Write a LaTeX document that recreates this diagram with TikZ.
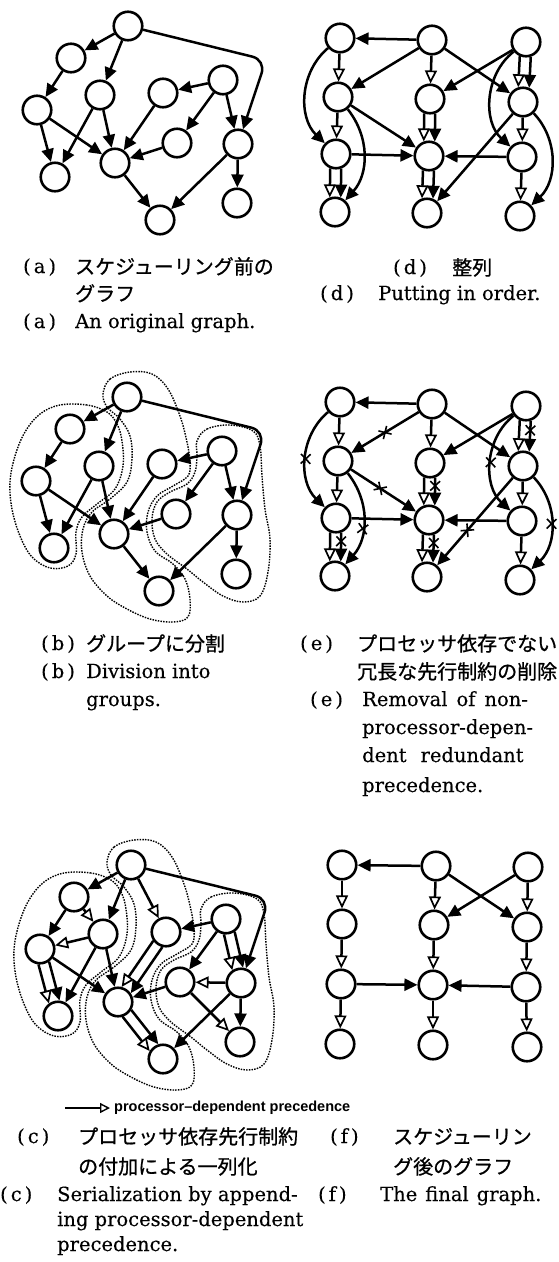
\documentclass[tikz,border=0pt]{standalone}
\usepackage{fontspec}
\setmainfont{DejaVu Serif}[FakeBold=0.3]
\newfontfamily\jpfont{Noto Sans CJK JP}[FakeBold=0.8]
\newfontfamily\legfont{Liberation Sans}
\usetikzlibrary{arrows.meta,calc,shapes.misc}

\tikzset{
  vtx/.style={circle,draw,line width=2.6pt,minimum size=28.5pt,inner sep=0pt,fill=white},
  e/.style={line width=2.5pt,-{Triangle[length=13pt,width=12pt]}},
  p/.style={line width=2.5pt,-{Triangle[length=13pt,width=12pt,fill=white,line width=1.7pt]}},
  grp/.style={line width=1.4pt,dash pattern=on 1.5pt off 1.2pt},
  xmk/.style={cross out,draw,solid,line width=1.6pt,minimum size=8pt,inner sep=0pt,sloped,allow upside down,shorten <=0pt,shorten >=0pt},
  en/.style={anchor=base west,inner sep=0pt,font=\fontsize{19.5}{23}\selectfont},
  jp/.style={anchor=base west,inner sep=0pt,font=\jpfont\fontsize{20}{24}\selectfont},
  leg/.style={anchor=west,inner sep=0pt,font=\legfont\bfseries\fontsize{14.5}{17}\selectfont},
  pl/.style={line width=1.5pt,shorten >=4pt,-{Triangle[length=10pt,width=10pt,fill=white,line width=1.4pt]}},
}

% paired (hollow + filled) connector
\newcommand\dbledge[2]{%
  \draw[p,shorten <=14.5pt,shorten >=14.5pt] ($(#1)!5.5pt!-90:(#2)$) -- ($(#2)!5.5pt!90:(#1)$);
  \draw[e,shorten <=14.5pt,shorten >=14.5pt] ($(#1)!5.5pt!90:(#2)$) -- ($(#2)!5.5pt!-90:(#1)$);
}
\newcommand\dbledgex[2]{%
  \draw[p,shorten <=14.5pt,shorten >=14.5pt] ($(#1)!5.5pt!-90:(#2)$) -- ($(#2)!5.5pt!90:(#1)$);
  \draw[e,shorten <=14.5pt,shorten >=14.5pt] ($(#1)!5.5pt!90:(#2)$) -- node[xmk,pos=.4]{} ($(#2)!5.5pt!-90:(#1)$);
}

% nodes of the original graph
\newcommand\gnodes[1]{%
  \node[vtx] (#1A) at (128,26) {};
  \node[vtx] (#1B) at (71,58) {};
  \node[vtx] (#1C) at (100,95) {};
  \node[vtx] (#1D) at (37,110) {};
  \node[vtx] (#1E) at (55,177) {};
  \node[vtx] (#1F) at (115,163) {};
  \node[vtx] (#1G) at (163,93) {};
  \node[vtx] (#1H) at (223,80) {};
  \node[vtx] (#1I) at (177,143) {};
  \node[vtx] (#1J) at (238,144) {};
  \node[vtx] (#1K) at (237,203) {};
  \node[vtx] (#1L) at (160,220) {};
  \coordinate (#1corner) at (266,60);
}
\newcommand\gedges[1]{%
  \draw[e] (#1A) -- (#1B);
  \draw[e] (#1A) -- (#1C);
  \draw[e,rounded corners=14pt] (#1A) -- (#1corner) -- (#1J);
  \draw[e] (#1B) -- (#1D);
  \draw[e] (#1D) -- (#1E);
  \draw[e] (#1D) -- (#1F);
  \draw[e] (#1C) -- (#1E);
  \draw[e] (#1C) -- (#1F);
  \draw[e] (#1G) -- (#1F);
  \draw[e] (#1H) -- (#1G);
  \draw[e] (#1H) -- (#1I);
  \draw[e] (#1H) -- (#1J);
  \draw[e] (#1I) -- (#1F);
  \draw[e] (#1F) -- (#1L);
  \draw[e] (#1J) -- (#1L);
  \draw[e] (#1J) -- (#1K);
}
\newcommand\ggroups{%
  \draw[grp] plot[smooth cycle,tension=0.6] coordinates {(108,41) (88,34) (61,34) (41,43) (26,61) (16,85) (11,111) (13,138) (21,165) (33,186) (51,197) (69,195) (77,183) (77,161) (83,146) (98,133) (116,118) (124,95) (123,70) (118,53)};
  \draw[grp] plot[smooth cycle,tension=0.6] coordinates {(104,23) (111,8) (131,1) (153,3) (169,18) (181,45) (188,71) (191,91) (189,105) (174,115) (158,125) (149,141) (148,161) (156,180) (174,193) (186,208) (191,228) (189,246) (174,251) (151,248) (128,238) (108,225) (91,205) (83,181) (84,158) (93,141) (111,128) (128,111) (133,88) (131,65) (121,48) (108,36)};
  \draw[grp] plot[smooth cycle,tension=0.6] coordinates {(198,70) (208,58) (231,54) (254,60) (261,75) (263,105) (266,138) (271,168) (269,201) (261,225) (244,231) (224,225) (204,211) (188,198) (168,183) (156,168) (153,148) (158,131) (171,121) (188,113) (196,101) (198,85)};
}
% nodes of the ordered graph
\newcommand\onodes[1]{%
  \node[vtx] (#1P1) at (340,38) {};
  \node[vtx] (#1P2) at (338,97) {};
  \node[vtx] (#1P3) at (336,154) {};
  \node[vtx] (#1P4) at (335,212) {};
  \node[vtx] (#1Q1) at (432,40) {};
  \node[vtx] (#1Q2) at (430,99) {};
  \node[vtx] (#1Q3) at (429,156) {};
  \node[vtx] (#1Q4) at (427,213) {};
  \node[vtx] (#1R1) at (526,42) {};
  \node[vtx] (#1R2) at (523,102) {};
  \node[vtx] (#1R3) at (522,157) {};
  \node[vtx] (#1R4) at (520,216) {};
}

\begin{document}
\begin{tikzpicture}[x=1pt,y=-1pt]
\useasboundingbox (0,0) rectangle (559,1262);

% ---------------- (a)
\gnodes{a}
\gedges{a}

% ---------------- (b)
\begin{scope}[shift={(-1,371)}]
  \ggroups
  \gnodes{b}
  \gedges{b}
\end{scope}

% ---------------- (c)
\begin{scope}[shift={(3,839)}]
  \ggroups
  \gnodes{c}
  \draw[e] (cA) -- (cB);
  \draw[e] (cA) -- (cC);
  \draw[p] (cA) -- (cG);
  \draw[e,rounded corners=14pt] (cA) -- (ccorner) -- (cJ);
  \draw[e] (cB) -- (cD);
  \draw[p] (cB) -- (cC);
  \draw[p] (cC) -- (cD);
  \draw[e] (cC) -- (cE);
  \draw[e] (cC) -- (cF);
  \dbledge{cD}{cE}
  \draw[e] (cD) -- (cF);
  \dbledge{cG}{cF}
  \draw[e] (cH) -- (cG);
  \draw[e] (cH) -- (cI);
  \dbledge{cH}{cJ}
  \draw[e] (cI) -- (cF);
  \draw[p] (cJ) -- (cI);
  \draw[p] (cI) -- (cK);
  \draw[e] (cJ) -- (cL);
  \draw[e] (cJ) -- (cK);
  \dbledge{cF}{cL}
\end{scope}

% ---------------- (d)
\onodes{d}
\draw[e] (dQ1) -- (dP1);
\draw[p] (dP1) -- (dP2);
\draw[e] (dP1) to[bend right=48] (dP3);
\draw[e] (dQ1) -- (dP2);
\draw[p] (dQ1) -- (dQ2);
\draw[e] (dQ1) -- (dR2);
\draw[e] (dR1) -- (dQ2);
\dbledge{dR1}{dR2}
\draw[e] (dR1) to[bend right=50] (dR3);
\draw[p] (dP2) -- (dP3);
\draw[e] (dP2) -- (dQ3);
\draw[e] (dP2) to[bend left=40] (dP4);
\dbledge{dQ2}{dQ3}
\draw[p] (dR2) -- (dR3);
\draw[e] (dR2) -- (dQ4);
\draw[e] (dR2) to[bend left=45] (dR4);
\draw[e] (dP3) -- (dQ3);
\draw[e] (dR3) -- (dQ3);
\dbledge{dP3}{dP4}
\dbledge{dQ3}{dQ4}
\draw[p] (dR3) -- (dR4);

% ---------------- (e)
\begin{scope}[shift={(0,364)}]
  \onodes{e}
  \draw[e] (eQ1) -- (eP1);
  \draw[p] (eP1) -- (eP2);
  \draw[e] (eP1) to[bend right=48] node[xmk,pos=.5]{} (eP3);
  \draw[e] (eQ1) -- node[xmk,pos=.5]{} (eP2);
  \draw[p] (eQ1) -- (eQ2);
  \draw[e] (eQ1) -- (eR2);
  \draw[e] (eR1) -- (eQ2);
  \dbledgex{eR1}{eR2}
  \draw[e] (eR1) to[bend right=50] node[xmk,pos=.5]{} (eR3);
  \draw[p] (eP2) -- (eP3);
  \draw[e] (eP2) -- node[xmk,pos=.45]{} (eQ3);
  \draw[e] (eP2) to[bend left=40] node[xmk,pos=.6]{} (eP4);
  \dbledgex{eQ2}{eQ3}
  \draw[p] (eR2) -- (eR3);
  \draw[e] (eR2) -- node[xmk,pos=.6]{} (eQ4);
  \draw[e] (eR2) to[bend left=45] node[xmk,pos=.5]{} (eR4);
  \draw[e] (eP3) -- (eQ3);
  \draw[e] (eR3) -- (eQ3);
  \dbledgex{eP3}{eP4}
  \dbledgex{eQ3}{eQ4}
  \draw[p] (eR3) -- (eR4);
\end{scope}

% ---------------- (f)
\node[vtx] (fP1) at (342,865) {};
\node[vtx] (fP2) at (342,924) {};
\node[vtx] (fP3) at (341,984) {};
\node[vtx] (fP4) at (340,1044) {};
\node[vtx] (fQ1) at (436,866) {};
\node[vtx] (fQ2) at (434,925) {};
\node[vtx] (fQ3) at (433,985) {};
\node[vtx] (fQ4) at (433,1045) {};
\node[vtx] (fR1) at (528,867) {};
\node[vtx] (fR2) at (527,927) {};
\node[vtx] (fR3) at (526,987) {};
\node[vtx] (fR4) at (527,1047) {};
\draw[e] (fQ1) -- (fP1);
\draw[p] (fP1) -- (fP2);
\draw[p] (fP2) -- (fP3);
\draw[p] (fP3) -- (fP4);
\draw[p] (fQ1) -- (fQ2);
\draw[p] (fQ2) -- (fQ3);
\draw[p] (fQ3) -- (fQ4);
\draw[p] (fR1) -- (fR2);
\draw[p] (fR2) -- (fR3);
\draw[p] (fR3) -- (fR4);
\draw[e] (fQ1) -- (fR2);
\draw[e] (fR1) -- (fQ2);
\draw[e] (fP3) -- (fQ3);
\draw[e] (fR3) -- (fQ3);

% ---------------- legend
\coordinate (legs) at (65,1108);
\node[leg] (legt) at (114,1108) {processor–dependent precedence};
\draw[pl] (legs) -- (legt.west);

% ---------------- captions (a)
\node[en] (ta1) at (23,273) {(\hspace{3pt}a\hspace{3pt})};
\node[jp] (ta2) at (75,274) {スケジューリング前の};
\node[jp] (ta3) at (75,301) {グラフ};
\node[en] (ta4) at (23,328) {(\hspace{3pt}a\hspace{3pt})};
\node[en] (ta5) at (75,328) {An original graph.};
% captions (d)
\node[en] (td1) at (393,274) {(\hspace{3pt}d\hspace{3pt})};
\node[jp] (td2) at (452,275) {整列};
\node[en] (td3) at (320,300) {(\hspace{3pt}d\hspace{3pt})};
\node[en] (td4) at (378,300) {Putting in order.};
% captions (b)
\node[en] (tb1) at (41,650) {(\hspace{3pt}b\hspace{3pt})};
\node[jp] (tb2) at (86,651) {グループに分割};
\node[en] (tb3) at (41,678) {(\hspace{3pt}b\hspace{3pt})};
\node[en] (tb4) at (86,678) {Division into};
\node[en] (tb5) at (86,706) {groups.};
% captions (e)
\node[en] (te1) at (300,650) {(\hspace{3pt}e\hspace{3pt})};
\node[jp] (te2) at (357,651) {プロセッサ依存でない};
\node[jp] (te3) at (357,679) {冗長な先行制約の削除};
\node[en] (te4) at (310,706) {(\hspace{3pt}e\hspace{3pt})};
\node[en] (te5) at (362,706) {Removal\hspace{9pt}of\hspace{9pt}non-};
\node[en] (te6) at (362,734) {processor-depen-};
\node[en] (te7) at (362,762) {dent\hspace{14pt}redundant};
\node[en] (te8) at (362,792) {precedence.};
% captions (c)
\node[en] (tc1) at (17,1143) {(\hspace{3pt}c\hspace{3pt})};
\node[jp] (tc2) at (78,1144) {プロセッサ依存先行制約};
\node[jp] (tc3) at (78,1174) {の付加による一列化};
\node[en] (tc4) at (0,1201) {(\hspace{3pt}c\hspace{3pt})};
\node[en] (tc5) at (57,1201) {Serialization by append-};
\node[en] (tc6) at (57,1226) {ing processor-dependent};
\node[en] (tc7) at (57,1251) {precedence.};
% captions (f)
\node[en] (tf1) at (330,1143) {(\hspace{3pt}f\hspace{3pt})};
\node[jp] (tf2) at (393,1144) {スケジューリン};
\node[jp] (tf3) at (393,1174) {グ後のグラフ};
\node[en] (tf4) at (318,1201) {(\hspace{3pt}f\hspace{3pt})};
\node[en] (tf5) at (380,1201) {The\hspace{8pt}final\hspace{8pt}graph.};
\end{tikzpicture}
\end{document}
